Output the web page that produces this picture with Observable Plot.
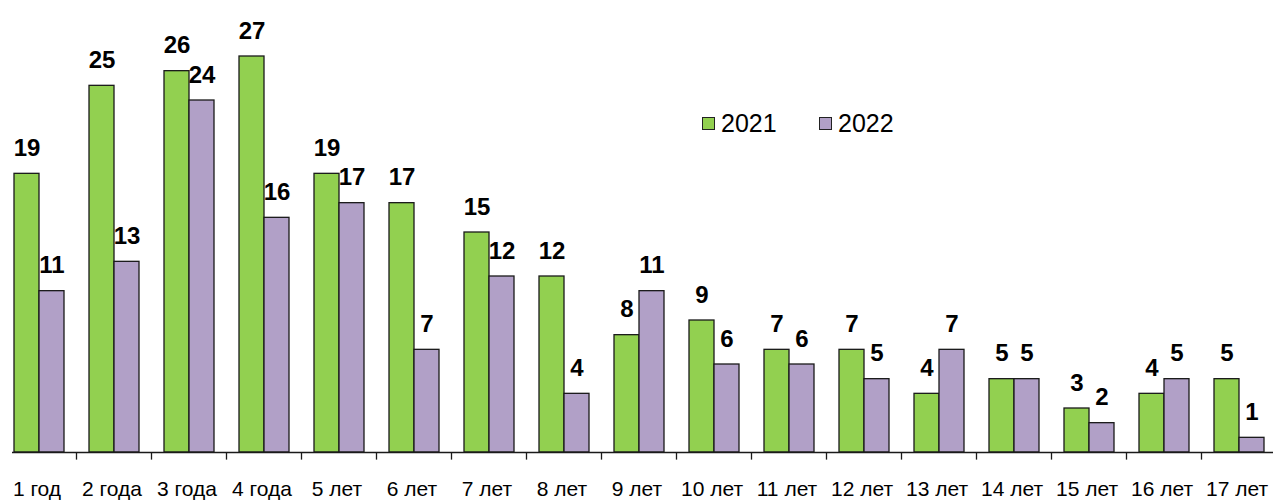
<!DOCTYPE html>
<html>
<head>
<meta charset="utf-8">
<script src="https://cdn.jsdelivr.net/npm/d3@7"></script>
<script src="https://cdn.jsdelivr.net/npm/@observablehq/plot@0.6"></script>
<style>
  html, body { margin: 0; padding: 0; background: #fff; }
  #wrap { position: relative; width: 1273px; height: 502px; overflow: hidden; }
  .legend { position: absolute; top: 109px; font-family: "Liberation Sans", Arial, sans-serif; font-size: 25px; color: #000; display: flex; align-items: center; }
  .sw { width: 13px; height: 13px; border: 1px solid #222; margin-right: 6px; box-sizing: border-box; }
</style>
</head>
<body>
<div id="wrap"></div>
<script>
const categories = ["1 год","2 года","3 года","4 года","5 лет","6 лет","7 лет","8 лет","9 лет","10 лет","11 лет","12 лет","13 лет","14 лет","15 лет","16 лет","17 лет"];
const values2021 = [19,25,26,27,19,17,15,12,8,9,7,7,4,5,3,4,5];
const values2022 = [11,13,24,16,17,7,12,4,11,6,6,5,7,5,2,5,1];
const seriesNames = ["2021","2022"];
const seriesColors = ["#92D050","#B1A0C7"];

const d21 = categories.map((c,i)=>({cat:c, v:values2021[i]}));
const d22 = categories.map((c,i)=>({cat:c, v:values2022[i]}));

const font = "'Liberation Sans', Arial, sans-serif";

const chart = Plot.plot({
  width: 1273,
  height: 502,
  marginLeft: 12,
  marginRight: 0,
  marginTop: 0,
  marginBottom: 50,
  style: {fontFamily: font, background: "#fff", overflow: "visible"},
  x: {domain: categories, range: [1, 1276], padding: 0, label: null},
  y: {domain: [0, 27], range: [452, 56], axis: null},
  marks: [
    Plot.barY(d21, {x: "cat", y: "v", fill: seriesColors[0], stroke: "#1a1a1a", strokeWidth: 1.3, insetLeft: 13, insetRight: 37}),
    Plot.barY(d22, {x: "cat", y: "v", fill: seriesColors[1], stroke: "#1a1a1a", strokeWidth: 1.3, insetLeft: 38, insetRight: 12}),
    Plot.ruleY([0], {stroke: "#1a1a1a", strokeWidth: 1.3}),
    Plot.ruleX(categories.slice(1), {x: d => d, dx: -37.5, y1: 0, y2: -0.52, stroke: "#1a1a1a", strokeWidth: 1.3}),
    Plot.text(d21, {x: "cat", y: "v", text: d => String(d.v), dx: -12, dy: -18, lineAnchor: "bottom", fontSize: 24, fontWeight: "bold", fill: "#000"}),
    Plot.text(d22, {x: "cat", y: "v", text: d => String(d.v), dx: 13, dy: -18, lineAnchor: "bottom", fontSize: 24, fontWeight: "bold", fill: "#000"}),
    Plot.axisX({tickSize: 0, tickPadding: 29, fontSize: 21, label: null, fill: "#000", dx: -2})
  ]
});

const wrap = document.getElementById("wrap");
wrap.appendChild(chart);

const legendPos = [702, 819];
seriesNames.forEach((name, i) => {
  const el = document.createElement("div");
  el.className = "legend";
  el.style.left = legendPos[i] + "px";
  const sw = document.createElement("div");
  sw.className = "sw";
  sw.style.background = seriesColors[i];
  const t = document.createElement("span");
  t.textContent = name;
  el.appendChild(sw);
  el.appendChild(t);
  wrap.appendChild(el);
});
</script>
</body>
</html>
